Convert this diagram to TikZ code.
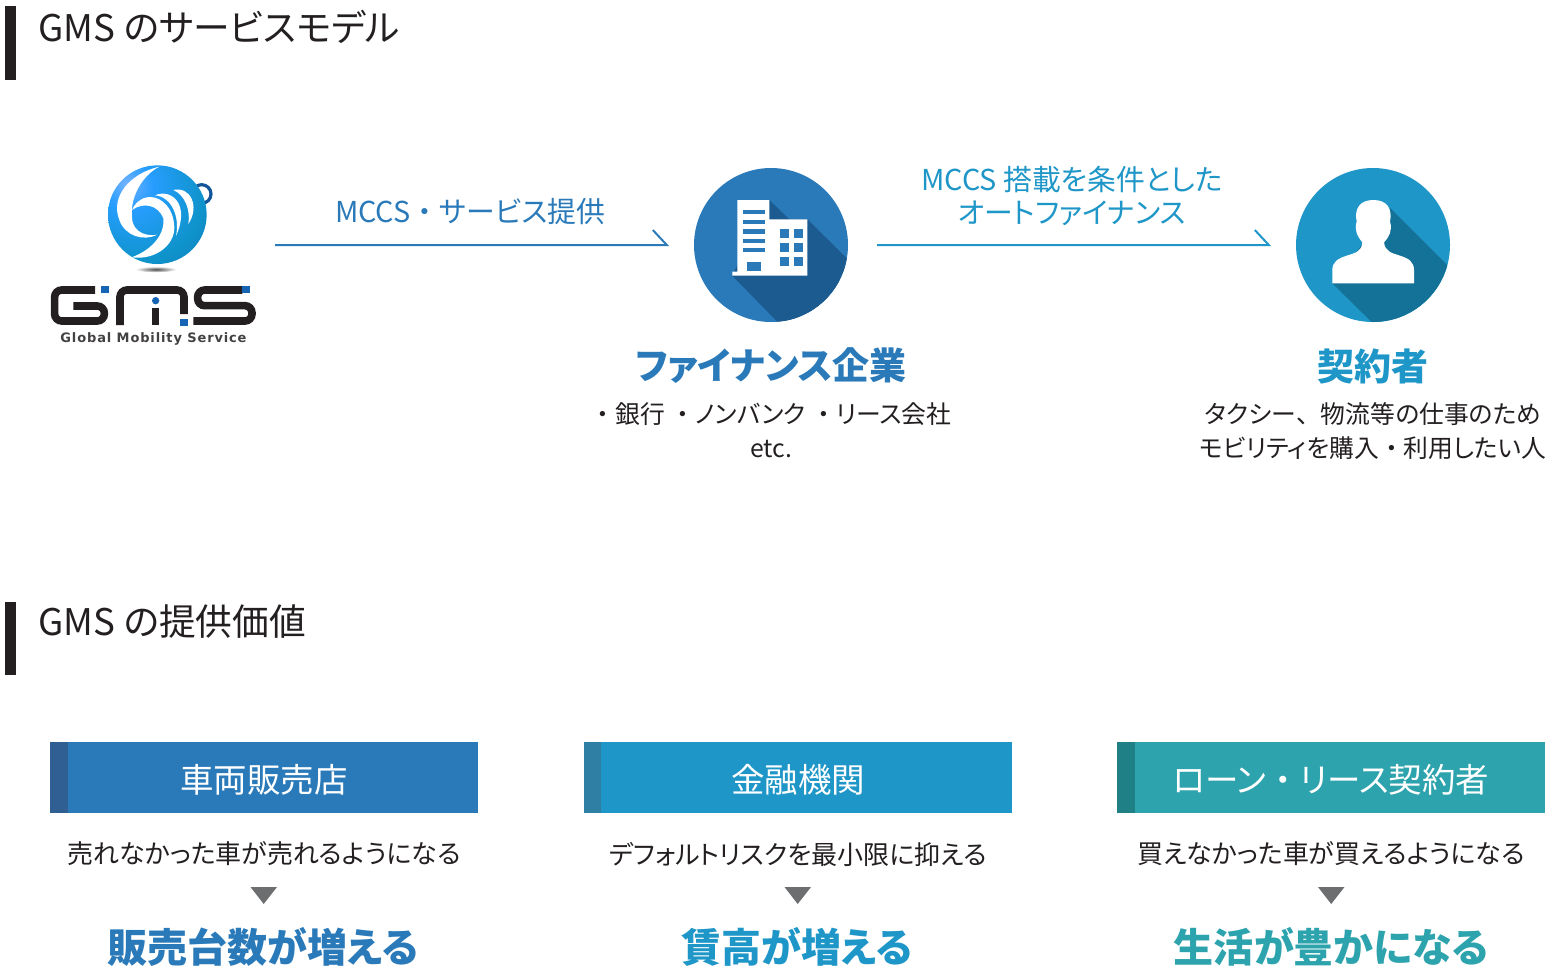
\documentclass[tikz,border=0pt]{standalone}
\usepackage{fontspec}
\setmainfont{Noto Sans CJK JP}[RawFeature=+palt]
\newfontfamily\solidfont{Noto Sans CJK JP}
\newfontfamily\logofont{DejaVu Sans}[LetterSpace=6.6]
\newcommand{\widedot}{{\solidfont ・}}
\definecolor{inkdark}{HTML}{231F20}
\definecolor{bluemain}{HTML}{2A7ABA}
\definecolor{bluedeep}{HTML}{1C5B90}
\definecolor{bluestripe}{HTML}{2F5F93}
\definecolor{cyanmain}{HTML}{1E96C7}
\definecolor{cyandeep}{HTML}{147198}
\definecolor{cyanstripe}{HTML}{2F7EA3}
\definecolor{tealmain}{HTML}{2DA3AD}
\definecolor{tealstripe}{HTML}{1F8085}
\definecolor{arrowgrey}{HTML}{6D6E70}
\definecolor{logoblue}{HTML}{1565B4}
\pgfdeclareradialshading{gmsball}{\pgfpoint{-16bp}{16bp}}{
  color(0bp)=(white!65!cyan!70!blue);
  color(12bp)=(cyan!55!blue!85!white);
  color(34bp)=(logoblue!70!cyan);
  color(62bp)=(logoblue);
  color(100bp)=(logoblue)}
\tikzset{
  secbar/.style={fill=inkdark},
  sechead/.style={anchor=west,text=inkdark,font=\fontsize{36.7}{42}\selectfont},
  flowline/.style={line width=2pt,line join=miter},
  roundicon/.style={circle,minimum size=154,inner sep=0pt},
  flowlabel/.style={align=center,font=\fontsize{28.8}{33}\selectfont},
  partyname/.style={font=\bfseries\fontsize{37}{40}\selectfont},
  partynote/.style={align=center,text=inkdark,font=\fontsize{24.8}{33.5}\selectfont},
  valuebar/.style={minimum width=428,minimum height=71,inner sep=0pt,text=white,text height=34pt,text depth=4pt,font=\fontsize{33.5}{38}\selectfont},
  valuestripe/.style={anchor=west,minimum width=18,minimum height=71,inner sep=0pt},
  valuetext/.style={text=inkdark,font=\fontsize{26}{30}\selectfont},
  valuegain/.style={font=\bfseries\fontsize{40}{44}\selectfont},
  logoline/.style={line width=7.6pt,draw=inkdark,rounded corners=7pt}
}
\begin{document}
\begin{tikzpicture}[x=1pt,y=-1pt]
  \useasboundingbox (0,0) rectangle (1552,970);

  % section headings
  \fill[secbar] (5,6) rectangle (15.5,80);
  \node[sechead] (headmodel) at (35,26.5) {GMS のサービスモデル};
  \fill[secbar] (5,602) rectangle (15.5,675);
  \node[sechead] (headvalue) at (35,621.5) {GMS の提供価値};

  % logo
  \begin{scope}[shift={(100,160)},scale=1/3]
    \draw[logoblue!85!black,line width=3.2pt] (305,102) circle (28);
    \shade[shading=gmsball] (172,164) circle (148);
    \fill[white] (178,20) .. controls (90,40) and (30,110) .. (58,180)
      .. controls (75,228) and (130,245) .. (172,224)
      .. controls (125,232) and (95,205) .. (96,170)
      .. controls (90,120) and (120,50) .. (178,20) -- cycle;
    \fill[white] (96,150) .. controls (130,125) and (175,135) .. (190,175)
      .. controls (195,220) and (160,268) .. (95,292)
      .. controls (170,302) and (232,250) .. (222,190)
      .. controls (215,130) and (170,105) .. (140,112)
      .. controls (115,118) and (102,135) .. (96,150) -- cycle;
    \fill[white] (165,106) .. controls (212,85) and (272,130) .. (228,228)
      .. controls (240,170) and (215,110) .. (165,106) -- cycle;
    \fill[white] (220,90) .. controls (272,78) and (300,140) .. (265,192)
      .. controls (272,150) and (255,105) .. (220,90) -- cycle;
    \shade[inner color=black!70,outer color=white] (168,328) ellipse (62 and 9);
  \end{scope}
  \begin{scope}[shift={(30,150)},scale=1/3]
    \draw[logoline] (195,420) -- (74,420) -- (74,513) -- (223,513) -- (223,468) -- (130,468);
    \draw[logoline] (270,525) -- (270,420) -- (462,420) -- (462,492);
    \draw[logoline,rounded corners=0pt] (377,475) -- (377,525);
    \draw[logoline] (637,420) -- (503,420) -- (503,467) -- (666,467) -- (666,513) -- (490,513);
    \fill[logoblue] (213,408) rectangle (237,430);
    \fill[logoblue] (451,506) rectangle (474,528);
    \fill[logoblue] (637,408) rectangle (660,430);
    \fill[logoblue] (377,452) circle (11);
  \end{scope}
  \node[text=inkdark!85,font=\logofont\bfseries\fontsize{13}{14}\selectfont] (logoname) at (153.5,339) {Global Mobility Service};
  \coordinate (svcstart) at (275,245);

  % finance company
  \node[roundicon,fill=bluemain] (fincircle) at (771,245) {};
  \begin{scope}
    \clip (771,245) circle (77);
    \fill[bluedeep] (769.3,200) -- (789.3,219.3) -- (807.3,219.3) -- (880,291) -- (880,400) -- (732.3,275.7) -- cycle;
    \fill[bluedeep] (732.3,275.7) -- (800,345) -- (880,345) -- (880,280) -- cycle;
  \end{scope}
  \begin{scope}[shift={(680,155)},scale=1/3]
    \fill[white] (172,135) -- (268,135) -- (268,193) -- (382,193) -- (382,362) -- (157,362) -- (157,350) -- (172,350) -- cycle;
    \fill[bluemain] (188,165) rectangle (256,178);
    \fill[bluemain] (188,195) rectangle (256,206);
    \fill[bluemain] (188,223) rectangle (256,236);
    \fill[bluemain] (188,252) rectangle (256,263);
    \fill[bluemain] (188,280) rectangle (256,291);
    \fill[bluemain] (201,320) rectangle (243,347);
    \fill[bluemain] (300,223) rectangle (328,248);
    \fill[bluemain] (341,223) rectangle (368,248);
    \fill[bluemain] (300,265) rectangle (328,290);
    \fill[bluemain] (341,265) rectangle (368,290);
    \fill[bluemain] (300,306) rectangle (328,332);
    \fill[bluemain] (341,306) rectangle (368,332);
  \end{scope}
  \node[partyname,text=bluemain] (finname) at (771,366) {ファイナンス企業};
  \node[partynote] (finnote) at (771,430) {\widedot 銀行 \widedot ノンバンク \widedot リース会社\\etc.};

  % contractor
  \node[roundicon,fill=cyanmain] (usercircle) at (1373,245) {};
  \begin{scope}
    \clip (1373,245) circle (77);
    \fill[cyandeep] (1390,208) -- (1480,298) -- (1480,345) -- (1395,345) -- (1332.3,283.3) -- cycle;
  \end{scope}
  \begin{scope}[shift={(1280,155)},scale=1/3]
    \fill[white] (157,385) -- (157,345) .. controls (157,320) and (175,310) .. (200,302)
      .. controls (225,294) and (245,290) .. (247,262)
      .. controls (232,245) and (222,225) .. (230,200)
      .. controls (222,160) and (240,135) .. (280,135)
      .. controls (320,135) and (338,160) .. (330,200)
      .. controls (338,225) and (328,245) .. (312,262)
      .. controls (315,290) and (335,294) .. (360,302)
      .. controls (385,310) and (402,320) .. (402,345) -- (402,385) -- cycle;
  \end{scope}
  \node[partyname,text=cyanmain] (username) at (1373,366) {契約者};
  \node[partynote] (usernote) at (1373,431) {タクシー{\solidfont 、}物流等の仕事のため\\モビリティを購入\widedot 利用したい人};

  % flow
  \draw[flowline,draw=bluemain] (svcstart) -- ([xshift=-27]fincircle.west) -- ++(-14,-15);
  \draw[flowline,draw=cyanmain] ([xshift=29]fincircle.east) -- ([xshift=-27]usercircle.west) -- ++(-14,-15);
  \node[flowlabel,text=bluemain] (svclabel) at (470,212) {MCCS\widedot サービス提供};
  \node[flowlabel,text=cyanmain] (loanlabel) at (1072,196) {MCCS 搭載を条件とした\\オートファイナンス};

  % value columns
  \node[valuebar,fill=bluemain] (dealerbar) at (264,777.5) {車両販売店};
  \node[valuestripe,fill=bluestripe] (dealerstripe) at (dealerbar.west) {};
  \node[valuetext] (dealertext) at (264,854) {売れなかった車が売れるようになる};
  \fill[arrowgrey] (250.5,887) -- (277,887) -- (263.7,904) -- cycle;
  \node[valuegain,text=bluemain] (dealergain) at (263,947) {販売台数が増える};

  \node[valuebar,fill=cyanmain] (bankbar) at (798,777.5) {金融機関};
  \node[valuestripe,fill=cyanstripe,minimum width=17] (bankstripe) at (bankbar.west) {};
  \node[valuetext] (banktext) at (798,854) {デフォルトリスクを最小限に抑える};
  \fill[arrowgrey] (784.5,887) -- (811,887) -- (797.7,904) -- cycle;
  \node[valuegain,text=cyanmain] (bankgain) at (797,947) {賃高が増える};

  \node[valuebar,fill=tealmain] (lesseebar) at (1331,777.5) {ローン\widedot リース契約者};
  \node[valuestripe,fill=tealstripe] (lesseestripe) at (lesseebar.west) {};
  \node[valuetext] (lesseetext) at (1331,854) {買えなかった車が買えるようになる};
  \fill[arrowgrey] (1318,887) -- (1344.5,887) -- (1331.2,904) -- cycle;
  \node[valuegain,text=tealmain] (lesseegain) at (1331,947) {生活が豊かになる};
\end{tikzpicture}
\end{document}
